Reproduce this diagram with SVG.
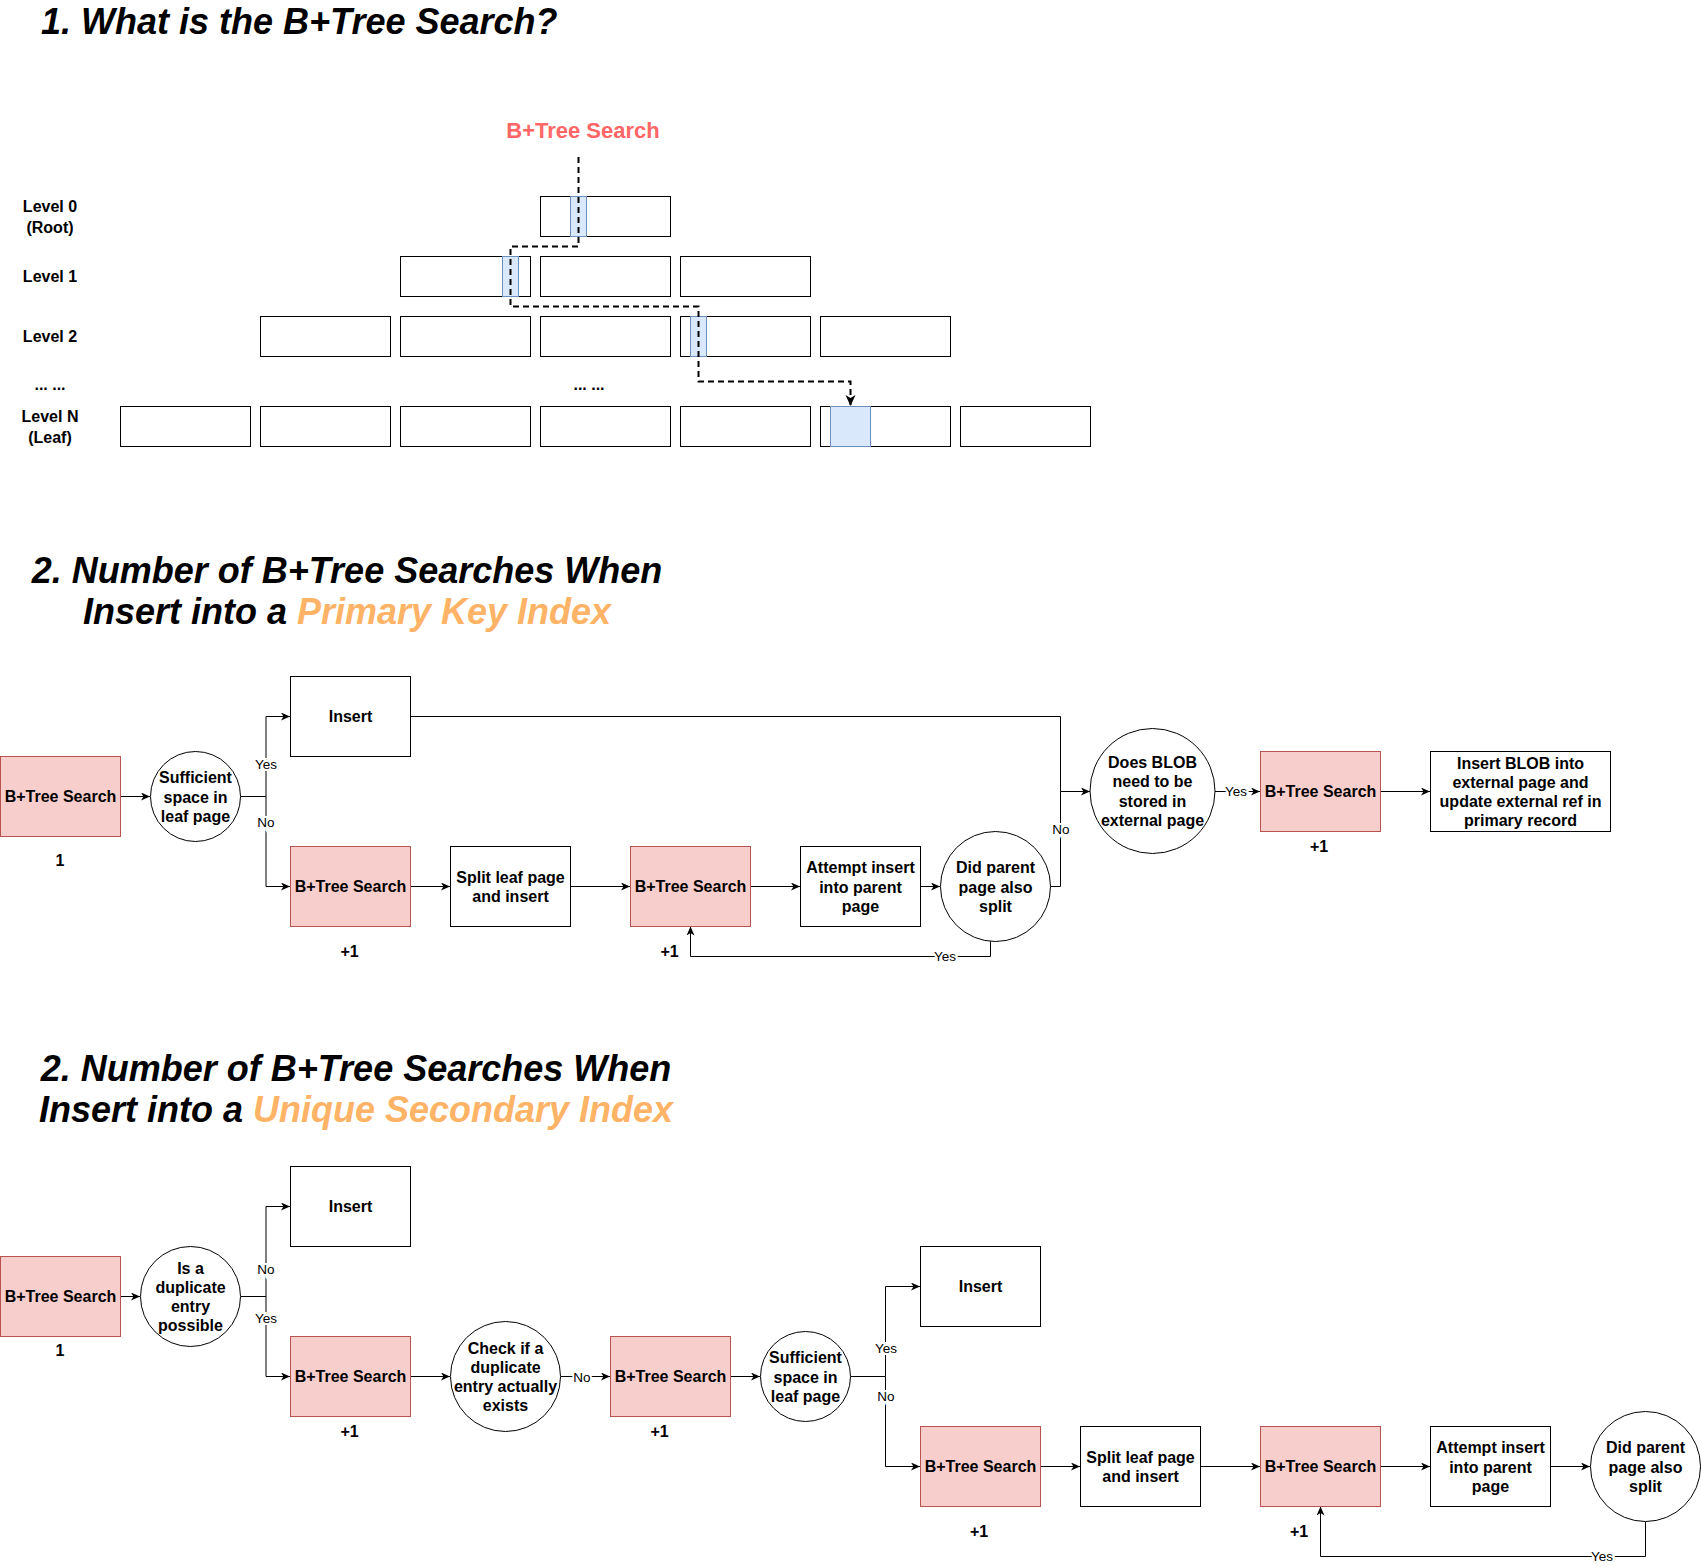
<svg xmlns="http://www.w3.org/2000/svg" width="1701" height="1567" viewBox="0 0 1701 1567">
<style>
.bg{fill:#fff}
.box{fill:#fff;stroke:#000;stroke-width:1}
.pink{fill:#f8cecc;stroke:#b85450;stroke-width:1}
.hl{fill:#dae8fc;stroke:#6c8ebf;stroke-width:1}
.t{font-family:"Liberation Sans",Arial,Helvetica,sans-serif;font-weight:bold;font-size:16px;text-anchor:middle;dominant-baseline:central;fill:#000}
.lbl{font-family:"Liberation Sans",Arial,Helvetica,sans-serif;font-size:13.5px;text-anchor:middle;dominant-baseline:central;fill:#000;stroke:#fff;stroke-width:4;paint-order:stroke}
.title{font-family:"Liberation Sans",Arial,Helvetica,sans-serif;font-weight:bold;font-style:italic;font-size:36px;fill:#000}
.hi{fill:#FFB366}
.edge{fill:none;stroke:#000;stroke-width:1}
.dash{fill:none;stroke:#000;stroke-width:2;stroke-dasharray:6 4}
</style>
<defs>
<marker id="arr" markerUnits="userSpaceOnUse" markerWidth="10" markerHeight="10" refX="9" refY="4" orient="auto"><path d="M0,0 L9,4 L0,8 L2.5,4 Z" fill="#000" stroke="none"/></marker>
<marker id="arrB" markerUnits="userSpaceOnUse" markerWidth="12" markerHeight="12" refX="11" refY="5" orient="auto"><path d="M0,0 L11,5 L0,10 L3,5 Z" fill="#000" stroke="none"/></marker>
</defs>
<rect class="bg" x="0" y="0" width="1701" height="1567"/>

<!-- Section 1 -->
<text class="title" x="41" y="34">1. What is the B+Tree Search?</text>
<text x="583" y="137.5" font-family="Liberation Sans, Arial, sans-serif" font-weight="bold" font-size="22" fill="#FF6666" text-anchor="middle">B+Tree Search</text>

<g id="levels">
<text class="t" x="50"><tspan x="50" y="206">Level 0</tspan><tspan x="50" y="226.5">(Root)</tspan></text>
<text class="t" x="50" y="276">Level 1</text>
<text class="t" x="50" y="336">Level 2</text>
<text class="t" x="50" y="384">... ...</text>
<text class="t" x="589" y="384">... ...</text>
<text class="t" x="50"><tspan x="50" y="416">Level N</tspan><tspan x="50" y="436.5">(Leaf)</tspan></text>
</g>

<g id="tree">
<rect class="box" x="540.5" y="196.5" width="130" height="40"/>
<rect class="box" x="400.5" y="256.5" width="130" height="40"/>
<rect class="box" x="540.5" y="256.5" width="130" height="40"/>
<rect class="box" x="680.5" y="256.5" width="130" height="40"/>
<rect class="box" x="260.5" y="316.5" width="130" height="40"/>
<rect class="box" x="400.5" y="316.5" width="130" height="40"/>
<rect class="box" x="540.5" y="316.5" width="130" height="40"/>
<rect class="box" x="680.5" y="316.5" width="130" height="40"/>
<rect class="box" x="820.5" y="316.5" width="130" height="40"/>
<rect class="box" x="120.5" y="406.5" width="130" height="40"/>
<rect class="box" x="260.5" y="406.5" width="130" height="40"/>
<rect class="box" x="400.5" y="406.5" width="130" height="40"/>
<rect class="box" x="540.5" y="406.5" width="130" height="40"/>
<rect class="box" x="680.5" y="406.5" width="130" height="40"/>
<rect class="box" x="820.5" y="406.5" width="130" height="40"/>
<rect class="box" x="960.5" y="406.5" width="130" height="40"/>
<rect class="hl" x="570.5" y="196.5" width="16" height="40"/>
<rect class="hl" x="502.5" y="256.5" width="16" height="40"/>
<rect class="hl" x="690.5" y="316.5" width="16" height="40"/>
<rect class="hl" x="830.5" y="406.5" width="40" height="40"/>
</g>
<g id="search-path">
<path class="dash" d="M578.5 157 V246.5 H510.5 V306.5 H698.5 V381.5 H850.5 V406" marker-end="url(#arrB)"/>
</g>

<!-- Section 2 -->
<text class="title" text-anchor="middle"><tspan x="347" y="582.5">2. Number of B+Tree Searches When</tspan><tspan x="347" y="624">Insert into a <tspan class="hi">Primary Key Index</tspan></tspan></text>

<g id="pk-connectors">
<path class="edge" d="M120.5 796.5 H150" marker-end="url(#arr)"/>
<path class="edge" d="M240.5 796.5 H266 V716.5 H290" marker-end="url(#arr)"/>
<path class="edge" d="M266 796.5 V886.5 H290" marker-end="url(#arr)"/>
<path class="edge" d="M410.5 886.5 H450" marker-end="url(#arr)"/>
<path class="edge" d="M570.5 886.5 H630" marker-end="url(#arr)"/>
<path class="edge" d="M750.5 886.5 H800" marker-end="url(#arr)"/>
<path class="edge" d="M920.5 886.5 H940" marker-end="url(#arr)"/>
<path class="edge" d="M410.5 716.5 H1060.5 V791.5"/>
<path class="edge" d="M1050.5 886.5 H1060.5 V791.5 H1090" marker-end="url(#arr)"/>
<path class="edge" d="M990.5 941 V956.5 H690.5 V926.5" marker-end="url(#arr)"/>
<path class="edge" d="M1215 791.5 H1260" marker-end="url(#arr)"/>
<path class="edge" d="M1380.5 791.5 H1430" marker-end="url(#arr)"/>
<text class="lbl" x="266" y="764">Yes</text>
<text class="lbl" x="266" y="822">No</text>
<text class="lbl" x="1061" y="829">No</text>
<text class="lbl" x="945" y="956.5">Yes</text>
<text class="lbl" x="1236" y="791.5">Yes</text>
</g>

<g id="pk-search1"><rect class="pink" x="0.5" y="756.5" width="120" height="80"/><text class="t" x="60.5" y="796.5">B+Tree Search</text><text class="t" x="60" y="860">1</text></g>
<g id="pk-space"><circle class="box" cx="195.5" cy="796.5" r="45"/><text class="t"><tspan x="195.5" y="777.3">Sufficient</tspan><tspan x="195.5" y="796.5">space in</tspan><tspan x="195.5" y="815.7">leaf page</tspan></text></g>
<g id="pk-insert"><rect class="box" x="290.5" y="676.5" width="120" height="80"/><text class="t" x="350.5" y="716.5">Insert</text></g>
<g id="pk-search2"><rect class="pink" x="290.5" y="846.5" width="120" height="80"/><text class="t" x="350.5" y="886.5">B+Tree Search</text><text class="t" x="349.5" y="951">+1</text></g>
<g id="pk-split"><rect class="box" x="450.5" y="846.5" width="120" height="80"/><text class="t"><tspan x="510.5" y="876.9">Split leaf page</tspan><tspan x="510.5" y="896.1">and insert</tspan></text></g>
<g id="pk-search3"><rect class="pink" x="630.5" y="846.5" width="120" height="80"/><text class="t" x="690.5" y="886.5">B+Tree Search</text><text class="t" x="669.5" y="951">+1</text></g>
<g id="pk-attempt"><rect class="box" x="800.5" y="846.5" width="120" height="80"/><text class="t"><tspan x="860.5" y="867.3">Attempt insert</tspan><tspan x="860.5" y="886.5">into parent</tspan><tspan x="860.5" y="905.7">page</tspan></text></g>
<g id="pk-parent-split"><circle class="box" cx="995.5" cy="886.5" r="55"/><text class="t"><tspan x="995.5" y="867.3">Did parent</tspan><tspan x="995.5" y="886.5">page also</tspan><tspan x="995.5" y="905.7">split</tspan></text></g>
<g id="pk-blob"><circle class="box" cx="1152.5" cy="791" r="62.5"/><text class="t"><tspan x="1152.5" y="762.2">Does BLOB</tspan><tspan x="1152.5" y="781.4">need to be</tspan><tspan x="1152.5" y="800.6">stored in</tspan><tspan x="1152.5" y="819.8">external page</tspan></text></g>
<g id="pk-search4"><rect class="pink" x="1260.5" y="751.5" width="120" height="80"/><text class="t" x="1320.5" y="791.5">B+Tree Search</text><text class="t" x="1319" y="846">+1</text></g>
<g id="pk-blob-insert"><rect class="box" x="1430.5" y="751.5" width="180" height="80"/><text class="t"><tspan x="1520.5" y="762.7">Insert BLOB into</tspan><tspan x="1520.5" y="781.9">external page and</tspan><tspan x="1520.5" y="801.1">update external ref in</tspan><tspan x="1520.5" y="820.3">primary record</tspan></text></g>

<!-- Section 3 -->
<text class="title" text-anchor="middle"><tspan x="356" y="1081">2. Number of B+Tree Searches When</tspan><tspan x="356" y="1122">Insert into a <tspan class="hi">Unique Secondary Index</tspan></tspan></text>

<g id="us-connectors">
<path class="edge" d="M120.5 1296.5 H140" marker-end="url(#arr)"/>
<path class="edge" d="M240.5 1296.5 H266 V1206.5 H290" marker-end="url(#arr)"/>
<path class="edge" d="M266 1296.5 V1376.5 H290" marker-end="url(#arr)"/>
<path class="edge" d="M410.5 1376.5 H450" marker-end="url(#arr)"/>
<path class="edge" d="M560.5 1376.5 H610" marker-end="url(#arr)"/>
<path class="edge" d="M730.5 1376.5 H760" marker-end="url(#arr)"/>
<path class="edge" d="M850.5 1376.5 H885.5 V1286.5 H920" marker-end="url(#arr)"/>
<path class="edge" d="M885.5 1376.5 V1466.5 H920" marker-end="url(#arr)"/>
<path class="edge" d="M1040.5 1466.5 H1080" marker-end="url(#arr)"/>
<path class="edge" d="M1200.5 1466.5 H1260" marker-end="url(#arr)"/>
<path class="edge" d="M1380.5 1466.5 H1430" marker-end="url(#arr)"/>
<path class="edge" d="M1550.5 1466.5 H1590" marker-end="url(#arr)"/>
<path class="edge" d="M1645.5 1521.5 V1556.5 H1320.5 V1506.5" marker-end="url(#arr)"/>
<text class="lbl" x="266" y="1269">No</text>
<text class="lbl" x="266" y="1318">Yes</text>
<text class="lbl" x="582" y="1377.5">No</text>
<text class="lbl" x="886" y="1348">Yes</text>
<text class="lbl" x="886" y="1396">No</text>
<text class="lbl" x="1602" y="1556.5">Yes</text>
</g>

<g id="us-search1"><rect class="pink" x="0.5" y="1256.5" width="120" height="80"/><text class="t" x="60.5" y="1296.5">B+Tree Search</text><text class="t" x="60" y="1350">1</text></g>
<g id="us-dup-possible"><circle class="box" cx="190.5" cy="1296.5" r="50"/><text class="t"><tspan x="190.5" y="1267.7">Is a</tspan><tspan x="190.5" y="1286.9">duplicate</tspan><tspan x="190.5" y="1306.1">entry</tspan><tspan x="190.5" y="1325.3">possible</tspan></text></g>
<g id="us-insert1"><rect class="box" x="290.5" y="1166.5" width="120" height="80"/><text class="t" x="350.5" y="1206.5">Insert</text></g>
<g id="us-search2"><rect class="pink" x="290.5" y="1336.5" width="120" height="80"/><text class="t" x="350.5" y="1376.5">B+Tree Search</text><text class="t" x="349.5" y="1431">+1</text></g>
<g id="us-dup-check"><circle class="box" cx="505.5" cy="1376.5" r="55"/><text class="t"><tspan x="505.5" y="1347.7">Check if a</tspan><tspan x="505.5" y="1366.9">duplicate</tspan><tspan x="505.5" y="1386.1">entry actually</tspan><tspan x="505.5" y="1405.3">exists</tspan></text></g>
<g id="us-search3"><rect class="pink" x="610.5" y="1336.5" width="120" height="80"/><text class="t" x="670.5" y="1376.5">B+Tree Search</text><text class="t" x="659.5" y="1431">+1</text></g>
<g id="us-space"><circle class="box" cx="805.5" cy="1376.5" r="45"/><text class="t"><tspan x="805.5" y="1357.3">Sufficient</tspan><tspan x="805.5" y="1376.5">space in</tspan><tspan x="805.5" y="1395.7">leaf page</tspan></text></g>
<g id="us-insert2"><rect class="box" x="920.5" y="1246.5" width="120" height="80"/><text class="t" x="980.5" y="1286.5">Insert</text></g>
<g id="us-search4"><rect class="pink" x="920.5" y="1426.5" width="120" height="80"/><text class="t" x="980.5" y="1466.5">B+Tree Search</text><text class="t" x="979" y="1531">+1</text></g>
<g id="us-split"><rect class="box" x="1080.5" y="1426.5" width="120" height="80"/><text class="t"><tspan x="1140.5" y="1456.9">Split leaf page</tspan><tspan x="1140.5" y="1476.1">and insert</tspan></text></g>
<g id="us-search5"><rect class="pink" x="1260.5" y="1426.5" width="120" height="80"/><text class="t" x="1320.5" y="1466.5">B+Tree Search</text><text class="t" x="1299" y="1531">+1</text></g>
<g id="us-attempt"><rect class="box" x="1430.5" y="1426.5" width="120" height="80"/><text class="t"><tspan x="1490.5" y="1447.3">Attempt insert</tspan><tspan x="1490.5" y="1466.5">into parent</tspan><tspan x="1490.5" y="1485.7">page</tspan></text></g>
<g id="us-parent-split"><circle class="box" cx="1645.5" cy="1466.5" r="55"/><text class="t"><tspan x="1645.5" y="1447.3">Did parent</tspan><tspan x="1645.5" y="1466.5">page also</tspan><tspan x="1645.5" y="1485.7">split</tspan></text></g>
</svg>
